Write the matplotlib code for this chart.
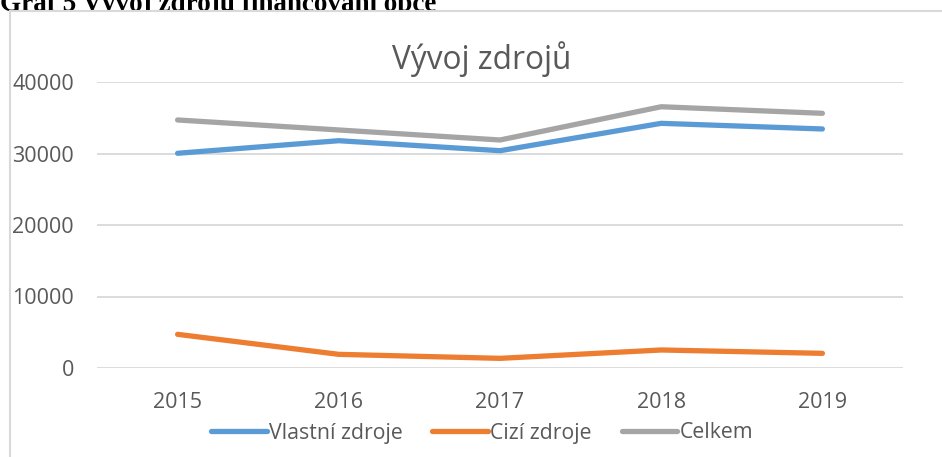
import matplotlib.pyplot as plt
from matplotlib.patches import Rectangle

# data
years = ['2015', '2016', '2017', '2018', '2019']
vlastni = [30030, 31790, 30390, 34220, 33430]
cizi = [4710, 1910, 1350, 2520, 2050]
celkem = [34690, 33290, 31890, 36540, 35620]
yticks = [0, 10000, 20000, 30000, 40000]

W, H = 942, 457
fig = plt.figure(figsize=(W / 100, H / 100), dpi=100)

# caption above the chart, cut off at the top, lower part hidden by chart
fig.text(0.0, 1 - 11 / H, 'Graf 5 Vývoj zdrojů financování obce',
         family='Liberation Serif', weight='bold', fontsize=19.5,
         color='black', ha='left', va='baseline', zorder=0)

# chart area (white, border cropped on right / bottom)
fig.patches.append(Rectangle((9.5 / W, -0.1), 1.2, (H - 10.5) / H + 0.1,
                             transform=fig.transFigure, facecolor='white',
                             edgecolor='#d9d9d9', linewidth=1.5, zorder=1))

ax = fig.add_axes([97 / W, (H - 368) / H, (903 - 97) / W, (368 - 82) / H])
ax.set_zorder(2)
ax.patch.set_alpha(0)
x = range(len(years))
ax.plot(x, vlastni, color='#5b9bd5', lw=3.8, solid_capstyle='round',
        solid_joinstyle='round', label='Vlastní zdroje', zorder=3)
ax.plot(x, cizi, color='#ed7d31', lw=3.8, solid_capstyle='round',
        solid_joinstyle='round', label='Cizí zdroje', zorder=3)
ax.plot(x, celkem, color='#a5a5a5', lw=3.8, solid_capstyle='round',
        solid_joinstyle='round', label='Celkem', zorder=3)

ax.set_xlim(-0.5, 4.5)
ax.set_ylim(0, 40000)
ax.set_yticks(yticks)
ax.set_yticklabels([str(v) for v in yticks])
ax.set_xticks(list(x))
ax.set_xticklabels(years)
ax.grid(axis='y', color='#d9d9d9', linewidth=1.3)
ax.set_axisbelow(True)
for s in ax.spines.values():
    s.set_visible(False)
ax.tick_params(length=0, labelsize=15.5, labelcolor='#595959')
ax.tick_params(axis='y', pad=16.5)
ax.tick_params(axis='x', pad=17)
for lab in ax.get_xticklabels() + ax.get_yticklabels():
    lab.set_family('Open Sans')

fig.text(482 / W, 1 - 59 / H, 'Vývoj zdrojů', family='Open Sans',
         fontsize=22.8, color='#595959', ha='center', va='center', zorder=3)

leg = fig.legend(loc='center', bbox_to_anchor=(482 / W, 1 - 433 / H), ncol=3,
                 frameon=False, prop={'family': 'Open Sans', 'size': 15.3},
                 labelcolor='#595959', handlelength=2.63, handletextpad=0.1,
                 columnspacing=1.4)
leg.set_zorder(3)

fig.savefig('out.png', dpi=100)
